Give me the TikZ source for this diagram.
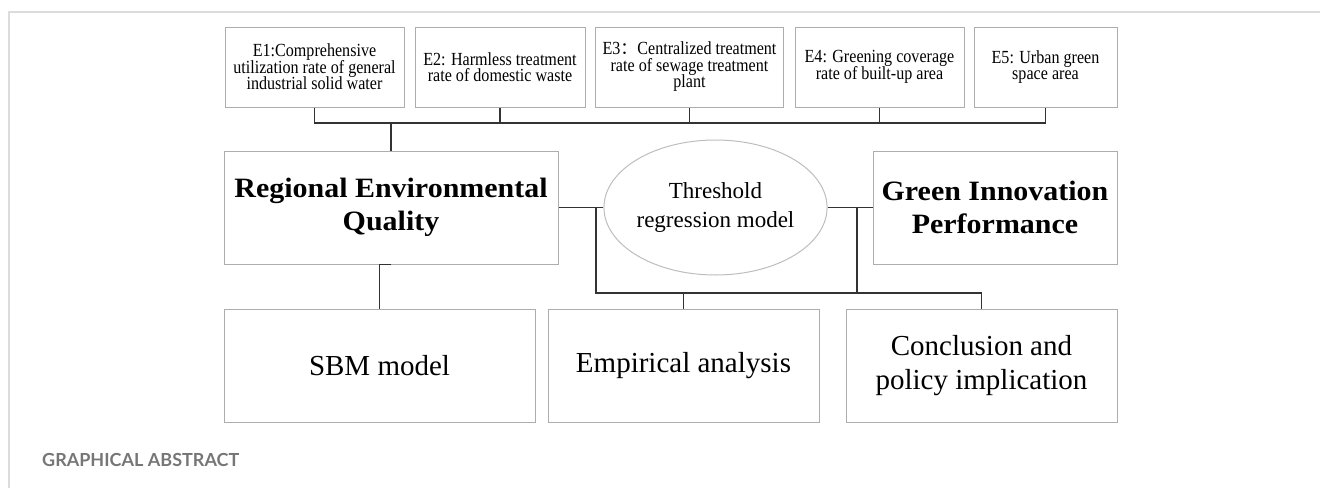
\documentclass[tikz,border=0pt]{standalone}
\usepackage{fontspec}
\setmainfont{Liberation Serif}
\newfontfamily\condf[FakeStretch=0.87]{Liberation Serif}
\newfontfamily\widef[FakeStretch=1.07]{Liberation Serif}
\newfontfamily\labf{Lato}
\newfontfamily\cjk{Noto Sans CJK SC}
\newcommand\mytightlines{\lineskiplimit=-100pt\relax}
\usetikzlibrary{shapes.geometric}
\definecolor{boxgray}{HTML}{ADADAD}
\definecolor{linecol}{HTML}{333333}
\definecolor{framegray}{HTML}{DCDCDC}
\definecolor{labgray}{HTML}{767676}
\begin{document}
\begin{tikzpicture}[x=1pt,y=-1pt,
  ebox/.style={draw=boxgray, line width=1pt, minimum height=80pt, inner sep=0pt, align=center,
    font=\condf\fontsize{18.5}{16.5}\selectfont\mytightlines},
  bigbox/.style={draw=boxgray, line width=1pt, minimum height=113pt, inner sep=0pt, align=center,
    font=\widef\bfseries\fontsize{28}{33}\selectfont},
  lowbox/.style={draw=boxgray, line width=1pt, minimum height=113pt, minimum width=271pt, inner sep=0pt, align=center,
    font=\fontsize{29}{34}\selectfont},
  ellbox/.style={ellipse, draw=boxgray!80, line width=1pt, minimum width=205pt, minimum height=135pt, inner sep=0pt, align=center,
    font=\fontsize{23}{29}\selectfont},
  conn/.style={draw=linecol, line width=1.3pt},
  frameline/.style={draw=framegray, line width=2pt},
  caption/.style={font=\labf\bfseries\fontsize{18}{20}\selectfont, text=labgray, inner sep=0pt, anchor=base west}
]
\useasboundingbox (0,0) rectangle (1320,488);
\draw[frameline] (9,488) -- (9,12) -- (1320,12);

% top indicator boxes
\node[ebox, minimum width=179pt] (E1) at (314.5,67) {E1:Comprehensive\\utilization rate of general\\industrial solid water};
\node[ebox, minimum width=170pt] (E2) at (500,67) {E2: Harmless treatment\\rate of domestic waste};
\node[ebox, minimum width=188pt] (E3) at (689.5,67) {E3{\cjk\fontsize{17}{16.5}\selectfont ：}Centralized treatment\\rate of sewage treatment\\plant};
\node[ebox, minimum width=169pt] (E4) at (879.5,67) {E4: Greening coverage\\rate of built-up area};
\node[ebox, minimum width=143pt] (E5) at (1045.5,67) {E5: Urban green\\space area};

% middle row
\node[bigbox, minimum width=334pt] (REQ) at (391,207.5) {Regional Environmental\\Quality};
\node[ellbox] (TRM) at (715.5,207.5) {Threshold\\regression model};
\node[bigbox, minimum width=244pt] (GIP) at (995,207.5) {Green Innovation\\Performance};

% bottom row
\node[lowbox, minimum width=311pt] (SBM) at (379.5,365.5) {SBM model};
\node[lowbox] (EMP) at (683.5,365.5) {Empirical analysis};
\node[lowbox] (CON) at (981.5,365.5) {Conclusion and\\policy implication};

% bus coordinates
\coordinate (bus) at (0,123);
\coordinate (jL) at (596,207.5);
\coordinate (jR) at (857,207.5);
\coordinate (hb) at (0,293);

% top bus
\draw[conn] (E1.south) -- (E1.south |- bus) -- (E5.south |- bus) -- (E5.south);
\draw[conn] (E2.south) -- (E2.south |- bus);
\draw[conn] (E3.south) -- (E3.south |- bus);
\draw[conn] (E4.south) -- (E4.south |- bus);
\draw[conn] (REQ.north) -- (REQ.north |- bus);

% middle links
\draw[conn] (REQ.east) -- (TRM.west);
\draw[conn] (TRM.east) -- (GIP.west);
\draw[conn] (jL) -- (jL |- hb) -- (CON.north |- hb) -- (CON.north);
\draw[conn] (jR) -- (jR |- hb);
\draw[conn] (EMP.north |- hb) -- (EMP.north);
\draw[conn] (REQ.south) -| (SBM.north);

\node[caption] (cap) at (42,466) {GRAPHICAL ABSTRACT};
\end{tikzpicture}
\end{document}
